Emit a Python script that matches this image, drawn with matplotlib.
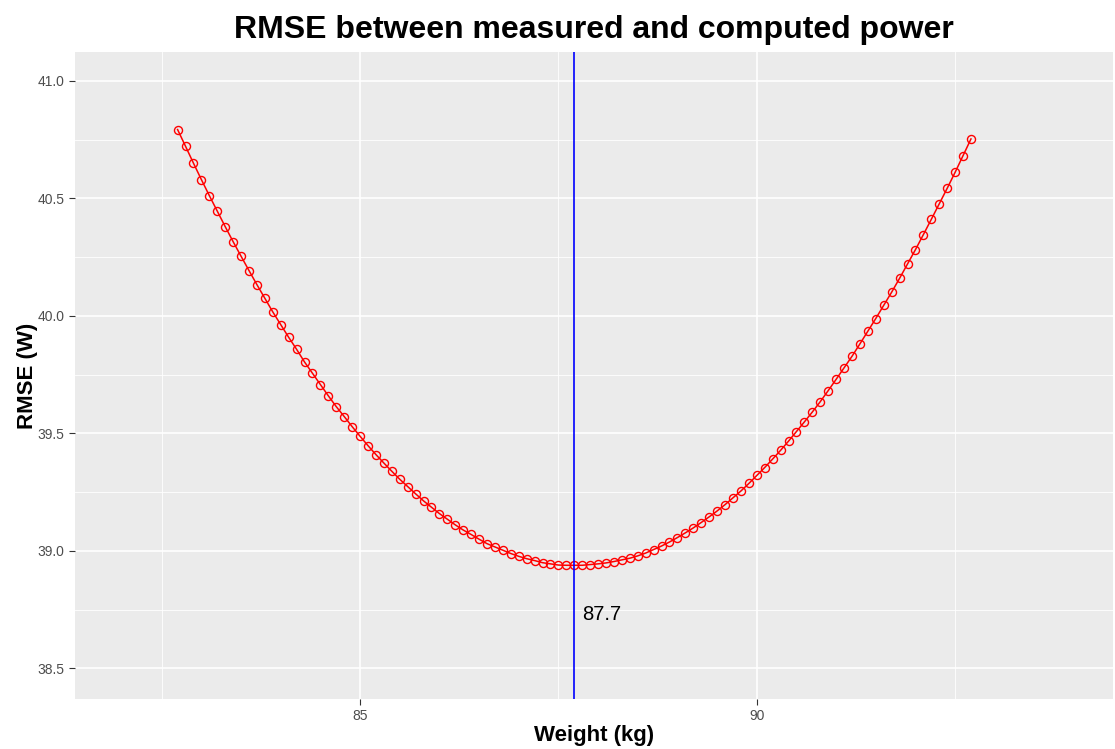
import matplotlib
matplotlib.use("Agg")
import matplotlib.pyplot as plt

plt.rcParams['font.family'] = ['Liberation Sans', 'DejaVu Sans']

# weight in kg, 82.7 ... 92.7 in 0.1 steps
weights = [round(82.7 + 0.1 * i, 1) for i in range(101)]
rmse = [
    40.793, 40.722, 40.650, 40.580, 40.512, 40.446, 40.380, 40.316, 40.254, 40.193,
    40.133, 40.075, 40.017, 39.963, 39.909, 39.858, 39.804, 39.756, 39.708, 39.660,
    39.614, 39.572, 39.529, 39.488, 39.448, 39.410, 39.374, 39.339, 39.305, 39.274,
    39.243, 39.213, 39.186, 39.159, 39.135, 39.111, 39.089, 39.070, 39.050, 39.031,
    39.017, 39.003, 38.989, 38.977, 38.967, 38.959, 38.950, 38.945, 38.940, 38.939,
    38.939, 38.939, 38.942, 38.945, 38.949, 38.955, 38.962, 38.969, 38.979, 38.991,
    39.006, 39.021, 39.038, 39.057, 39.077, 39.098, 39.121, 39.145, 39.170, 39.197,
    39.226, 39.255, 39.287, 39.321, 39.355, 39.391, 39.428, 39.467, 39.508, 39.549,
    39.591, 39.635, 39.682, 39.730, 39.779, 39.828, 39.881, 39.935, 39.989, 40.045,
    40.101, 40.160, 40.221, 40.282, 40.346, 40.411, 40.477, 40.543, 40.611, 40.682,
    40.753,
]
best_weight = 87.7
label_y = 38.73

x_major = [85, 90]
x_minor = [82.5, 87.5, 92.5]
y_major = [38.5, 39.0, 39.5, 40.0, 40.5, 41.0]
y_minor = [38.75, 39.25, 39.75, 40.25, 40.75]

fig = plt.figure(figsize=(11.15, 7.49), dpi=100)
ax = fig.add_axes([75 / 1115, 1 - 699 / 749, (1113 - 75) / 1115, (699 - 52) / 749])
ax.set_facecolor('#EBEBEB')
for s in ax.spines.values():
    s.set_visible(False)

for v in x_minor:
    ax.axvline(v, color='white', lw=0.6, zorder=0)
for v in y_minor:
    ax.axhline(v, color='white', lw=0.6, zorder=0)
for v in x_major:
    ax.axvline(v, color='white', lw=1.2, zorder=0)
for v in y_major:
    ax.axhline(v, color='white', lw=1.2, zorder=0)

ax.plot(weights, rmse, color='red', lw=1.1, zorder=2)
ax.plot(weights, rmse, 'o', mfc='none', mec='red', ms=5.8, mew=1.0, zorder=3)
ax.axvline(best_weight, color='blue', lw=1.2, zorder=4)
ax.text(best_weight + 0.1, label_y, str(best_weight), fontsize=14.5, va='center', ha='left')

ax.set_xlim(81.407, 94.49)
ax.set_ylim(38.370, 41.123)
ax.set_xticks(x_major)
ax.set_yticks(y_major)
ax.set_yticklabels([f"{v:.1f}" for v in y_major])
ax.tick_params(colors='#333333', labelcolor='#4D4D4D', labelsize=10, length=4, width=0.8)

ax.set_xlabel("Weight (kg)", fontsize=16, fontweight='bold', labelpad=1)
ax.set_ylabel("RMSE (W)", fontsize=16, fontweight='bold', labelpad=0)
ax.set_title("RMSE between measured and computed power", fontsize=23, fontweight='bold', pad=10)

fig.savefig("out.png", dpi=100)
